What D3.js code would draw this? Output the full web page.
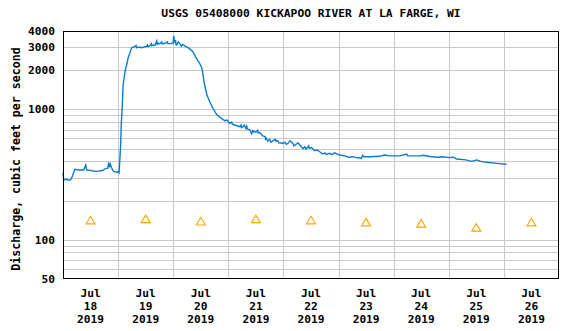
<!DOCTYPE html>
<html>
<head>
<meta charset="utf-8">
<script src="https://cdn.jsdelivr.net/npm/d3@7"></script>
<style>
  html, body { margin: 0; padding: 0; background: #fff; }
  svg { display: block; }
  text { font-family: "DejaVu Sans Mono", "Liberation Mono", monospace; font-weight: bold; fill: #000; }
</style>
</head>
<body>
<svg id="chart" width="573" height="331"></svg>
<script>
// Station and axis text
const title = "USGS 05408000 KICKAPOO RIVER AT LA FARGE, WI";
const yTitle = "Discharge, cubic feet per second";
const dayLabels = ["18", "19", "20", "21", "22", "23", "24", "25", "26"];
const monthLabel = "Jul";
const yearLabel = "2019";
const yTickLabels = [50, 100, 1000, 2000, 3000, 4000];
const yGridValues = [60, 70, 80, 90, 100, 200, 300, 400, 500, 600, 700, 800, 900, 1000, 2000, 3000];

// Discharge record: [hours after Jul 18 00:00, discharge in ft³/s]
const discharge = [
  [0,327],[0.3,288],[1.5,291],[2.5,286],[3.35,289],[4.2,310],[5.1,348],[6.5,345],[7.3,343],
  [9.0,343],[9.9,375],[10.3,343],[12.0,341],[13.1,337],[15.1,335],[16.0,338],[17.3,340],
  [18.5,352],[19.5,354],[19.9,393],[20.2,360],[20.6,380],[21.2,355],[22.0,335],[22.5,333],
  [23.5,330],[24.0,333],[24.4,327],[24.7,397],[25.1,534],[25.4,783],[25.9,1147],[26.2,1541],
  [26.9,1895],[27.3,2070],[27.9,2262],[28.3,2470],[29.1,2700],[29.8,2949],[30.2,3000],
  [31.2,3030],[31.8,3100],[32.0,2980],[32.5,3010],[33.4,3000],[34.5,2980],[35.5,3030],
  [36.3,3033],[36.8,3130],[37.0,3040],[37.8,3071],[38.5,3200],[38.7,3080],[39.2,3126],
  [40.0,3100],[40.8,3354],[41.0,3126],[41.3,3250],[42.1,3181],[43.0,3300],[43.2,3180],
  [44.3,3220],[45.5,3290],[45.7,3200],[46.5,3200],[47.9,3220],[48.2,3663],[48.7,3250],
  [49.0,3400],[49.2,3150],[49.5,3126],[50.2,3300],[50.8,3200],[51.5,3060],[52.0,3150],
  [53.0,3071],[54.5,2980],[56.6,2777],[58.1,2470],[59.5,2262],[60.5,2070],[61.0,1839],
  [61.4,1634],[62.0,1454],[62.7,1292],[63.9,1147],[65.3,1021],[66.8,923],[68.3,871],
  [70.4,820],[71.5,830],[72.6,783],[73.5,800],[73.7,770],[74.8,760],[76.9,738],[77.5,760],
  [77.7,725],[78.4,738],[79.0,760],[79.6,717],[80.0,745],[80.3,705],[81.3,700],[82.2,650],
  [82.6,690],[83.0,675],[84.2,675],[84.8,690],[85.0,660],[85.7,664],[86.2,650],[87.0,626],
  [88.0,620],[88.2,590],[88.6,600],[89.2,570],[90.0,590],[90.6,560],[91.5,576],[92.5,590],
  [92.7,570],[93.5,576],[94.0,555],[95.8,550],[96.5,560],[97.3,540],[98.0,550],[98.8,576],
  [100.1,550],[100.6,525],[101.7,543],[102.3,555],[103.1,534],[103.8,518],[104.5,500],
  [105.3,518],[105.8,495],[107.0,525],[107.2,505],[108.2,510],[109.6,483],[110.5,490],
  [111.8,474],[113.0,455],[114.0,465],[114.6,452],[116.2,461],[117.0,450],[118.3,465],
  [120.5,447],[122.7,440],[124.5,430],[126.3,434],[128.0,425],[129.2,427],[129.9,420],
  [130.5,445],[131.0,434],[133.6,434],[137.9,437],[140.0,447],[142.3,440],[146.7,440],
  [149.7,455],[150.0,440],[151.0,440],[155.4,440],[157.0,445],[159.7,436],[163.0,430],
  [165.5,434],[168.4,427],[170.0,430],[171.4,417],[175.4,410],[178.0,400],[180.1,410],
  [182.0,400],[184.4,393],[188.8,386],[193.2,380]
];

// Median daily statistic at noon of each day, ft³/s
const medianCfs = [141, 144, 138, 144, 141, 136, 133, 124, 136];

const plot = { left: 63, right: 559, top: 31, bottom: 279 };

const start = new Date(2019, 6, 18);
const end = new Date(2019, 6, 27);

const x = d3.scaleTime().domain([start, end]).range([plot.left, plot.right]);
const y = d3.scaleLog().domain([50, 4000]).range([plot.bottom, plot.top]);

const svg = d3.select("#chart");
const crisp = v => Math.round(v) + 0.5;

// Grid
const grid = svg.append("g").attr("stroke", "#c8c8c8").attr("stroke-width", 1);
grid.selectAll("line.h").data(yGridValues).join("line")
  .attr("class", "h")
  .attr("x1", plot.left).attr("x2", plot.right)
  .attr("y1", d => crisp(y(d))).attr("y2", d => crisp(y(d)));

const midnights = d3.timeDay.range(d3.timeDay.offset(start, 1), end);
grid.selectAll("line.v").data(midnights).join("line")
  .attr("class", "v")
  .attr("y1", plot.top).attr("y2", plot.bottom)
  .attr("x1", d => crisp(x(d))).attr("x2", d => crisp(x(d)));

// Discharge line
const series = discharge.map(([h, v]) => ({ t: new Date(start.getTime() + h * 3600e3), v }));
svg.append("path")
  .datum(series)
  .attr("fill", "none")
  .attr("stroke", "#0a7ccb")
  .attr("stroke-width", 1.4)
  .attr("d", d3.line().x(d => x(d.t)).y(d => y(d.v)));

// Median markers (open triangles)
const noons = dayLabels.map((_, i) => d3.timeHour.offset(d3.timeDay.offset(start, i), 12));
svg.append("g").selectAll("path").data(medianCfs).join("path")
  .attr("transform", (d, i) => `translate(${x(noons[i])},${y(d)})`)
  .attr("d", "M0,-4 L4.5,3.5 L-4.5,3.5 Z")
  .attr("fill", "none")
  .attr("stroke", "#ffa500")
  .attr("stroke-width", 1.1);

// Plot frame
svg.append("rect")
  .attr("x", plot.left + 0.5).attr("y", plot.top + 0.5)
  .attr("width", plot.right - plot.left - 1).attr("height", plot.bottom - plot.top - 1)
  .attr("fill", "none").attr("stroke", "#000").attr("stroke-width", 1);

// Y tick labels
svg.append("g").selectAll("text").data(yTickLabels).join("text")
  .attr("x", 55)
  .attr("y", d => y(d))
  .attr("dy", "0.36em")
  .attr("text-anchor", "end")
  .attr("font-size", "11.2px")
  .text(d => d);

// X tick labels (three lines, centred on each day)
const xl = svg.append("g").selectAll("text").data(dayLabels).join("text")
  .attr("text-anchor", "middle")
  .attr("font-size", "11.2px")
  .attr("transform", (d, i) => `translate(${x(noons[i])},0)`);
xl.append("tspan").attr("x", 0).attr("y", 297).text(monthLabel);
xl.append("tspan").attr("x", 0).attr("y", 310).text(d => d);
xl.append("tspan").attr("x", 0).attr("y", 323).text(yearLabel);

// Title
svg.append("text")
  .attr("x", (plot.left + plot.right) / 2)
  .attr("y", 17)
  .attr("text-anchor", "middle")
  .attr("font-size", "11.3px")
  .text(title);

// Y axis title
svg.append("text")
  .attr("transform", "translate(20,159) rotate(-90)")
  .attr("text-anchor", "middle")
  .attr("font-size", "11.6px")
  .text(yTitle);
</script>
</body>
</html>
